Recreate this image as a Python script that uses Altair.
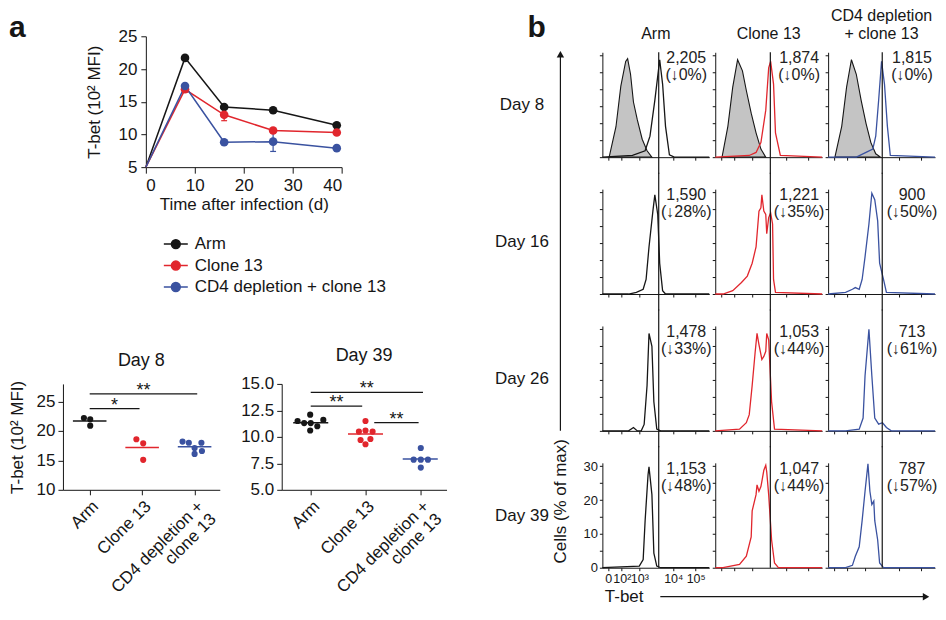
import altair as alt
import pandas as pd

FONT = "Liberation Sans"
INK = "#161616"
RED = "#E1262D"
BLUE = "#3A52A0"
GRAY = "#C4C4C4"

GROUPS = ["Arm", "Clone 13", "CD4 depletion + clone 13"]
GROUP_COLORS = [INK, RED, BLUE]

# ---------------- panel a, top: time course (10^2 MFI) ----------------
tc_days = [0, 8, 16, 26, 39]
tc_arm = [5.0, 21.7, 14.2, 13.7, 11.4]
tc_cl13 = [5.0, 16.9, 13.0, 10.6, 10.3]
tc_cd4 = [5.0, 17.4, 8.8, 8.9, 7.9]
tc_arm_err = [0.0, 0.2, 0.2, 0.3, 0.2]
tc_cl13_err = [0.0, 0.4, 0.9, 0.3, 0.2]
tc_cd4_err = [0.0, 0.3, 0.2, 1.5, 0.2]

# ---------------- panel a, bottom: individual mice ----------------
d8_arm = [22.2, 22.0, 20.9]
d8_cl13 = [18.6, 17.9, 15.1]
d8_cd4 = [18.2, 18.0, 17.1, 18.0, 16.1, 16.6]
d39_arm = [11.5, 12.1, 11.3, 11.3, 11.0, 11.6, 10.6]
d39_cl13 = [11.5, 10.5, 10.6, 10.5, 9.7, 9.8, 9.3]
d39_cd4 = [8.95, 7.85, 7.85, 7.85, 7.1]
# horizontal scatter of the dots (layout only, in category units)
d8_arm_jit = [-0.11, 0.01, 0.01]
d8_cl13_jit = [-0.11, 0.02, 0.02]
d8_cd4_jit = [-0.23, -0.11, 0.0, 0.13, 0.0, 0.14]
d39_arm_jit = [-0.24, -0.01, -0.12, 0.0, 0.12, 0.23, -0.01]
d39_cl13_jit = [0.0, -0.12, 0.0, 0.13, -0.09, 0.09, 0.0]
d39_cd4_jit = [0.01, -0.12, 0.01, 0.14, 0.01]
# significance brackets
d8_sig_from = [0.0, 0.0]
d8_sig_to = [0.95, 2.05]
d8_sig_y = [23.8, 26.3]
d8_sig_lbl = ["*", "**"]
d39_sig_from = [0.0, 0.0, 1.16]
d39_sig_to = [2.05, 0.94, 1.97]
d39_sig_y = [14.2, 12.9, 11.35]
d39_sig_lbl = ["**", "**", "**"]

# ---------------- panel b: T-bet histograms (x: display channel, y: % of max) ----------------
hist_d8_ctrl_arm = [(7, 0), (14, 9), (19, 21), (24, 28.3), (26, 29.1), (29, 24.5), (32, 16.3), (36, 11), (41, 5.3), (46, 1.9), (51, 0)]
hist_d8_ctrl_cl13 = [(7, 0), (13, 9.1), (18, 20.7), (23, 28.8), (28, 25.5), (32, 19.7), (37, 13), (42, 7.2), (47, 2.4), (52, 0)]
hist_d8_ctrl_cd4 = [(7, 0), (14, 9.1), (19, 20.7), (24, 28.8), (29, 24.5), (34, 16.8), (39, 10), (44, 4.3), (49, 1), (54, 0)]
hist_d8_arm = [(0, 0), (31, 0.5), (44, 1.9), (49, 6.2), (54, 16.8), (59, 28.8), (62, 21.6), (65, 9.1), (69, 0.7), (74, 0), (110, 0)]
hist_d8_cl13 = [(0, 0), (35, 0.5), (42, 1.4), (47, 4.3), (52, 13.9), (55, 26.4), (57, 28.3), (60, 21.6), (62, 7.2), (67, 0.5), (110, 0)]
hist_d8_cd4 = [(0, 0), (29, 0), (39, 1.4), (46, 2.4), (49, 6.2), (52, 16.8), (55, 28.3), (58, 21.6), (61, 9.1), (64, 0.5), (110, 0)]
hist_d16_arm = [(0, 0), (27, 0), (35, 0.5), (42, 1.4), (45, 4.3), (48, 13.9), (52, 24.5), (54, 29.3), (57, 23.5), (59, 9.1), (62, 1), (65, 0), (110, 0)]
hist_d16_cl13 = [(0, 0), (8, 0), (18, 1), (27, 3.4), (33, 5.3), (38, 9.1), (42, 13.9), (45, 24.5), (47, 25.5), (48, 29.3), (50, 24.5), (52, 23.5), (53, 17.8), (55, 22.6), (57, 24), (59, 20.7), (60, 4.3), (62, 0.5), (110, 0)]
hist_d16_cd4 = [(0, 0), (18, 0.5), (25, 1.4), (28, 1.9), (32, 1.4), (35, 4.3), (38, 11), (42, 20.7), (45, 29.8), (48, 27.9), (51, 21.6), (53, 9.1), (57, 4.3), (60, 0.5), (110, 0)]
hist_d26_arm = [(0, 0), (27, 0), (32, 1), (36, 0), (40, 0), (43, 1.9), (46, 13.4), (48, 28.8), (51, 25), (53, 8.6), (56, 0.5), (60, 0), (110, 0)]
hist_d26_cl13 = [(0, 0), (25, 0.5), (32, 2.4), (35, 4.8), (38, 13.4), (41, 23), (43, 28.8), (45, 25.5), (48, 21.1), (50, 22), (52, 23.5), (53, 28.8), (55, 26.9), (58, 8.6), (61, 0.5), (110, 0)]
hist_d26_cd4 = [(0, 0), (18, 0), (32, 0.5), (36, 3.8), (38, 16.3), (42, 30), (45, 16.3), (48, 3.8), (52, 2), (56, 2.4), (60, 1), (65, 0), (110, 0)]
hist_d39_arm = [(0, 0), (38, 0.5), (42, 2.4), (44, 13.9), (47, 27.4), (48, 29.8), (51, 21.6), (53, 4.3), (56, 0.5), (60, 0), (110, 0)]
hist_d39_cl13 = [(0, 0), (8, 0), (25, 1), (32, 3.4), (37, 9.1), (38, 16.8), (42, 21.6), (43, 24.5), (45, 22.6), (47, 24), (48, 25.5), (50, 28.8), (52, 30.3), (53, 28.3), (55, 21.6), (58, 8.2), (61, 1.4), (65, 0), (110, 0)]
hist_d39_cd4 = [(0, 0), (18, 0), (25, 0.7), (28, 3.4), (32, 6.2), (35, 13.9), (38, 22.6), (41, 30.7), (43, 22.6), (45, 18.7), (47, 19.7), (48, 13.9), (51, 8.2), (53, 1.4), (57, 0), (110, 0)]
hist_d8_peak = [58, 56.7, 55.7]  # reference line: day-8 MFI of each column

hist_days = ["Day 8", "Day 16", "Day 26", "Day 39"]
mfi_day8 = ["2,205", "1,874", "1,815"]
mfi_day16 = ["1,590", "1,221", "900"]
mfi_day26 = ["1,478", "1,053", "713"]
mfi_day39 = ["1,153", "1,047", "787"]
drop_day8 = [0, 0, 0]
drop_day16 = [28, 35, 50]
drop_day26 = [33, 44, 61]
drop_day39 = [48, 44, 57]
hist_tick_pos = [6, 20, 38, 73, 96]
hist_tick_lbl = ["0", "10²", "10³", "10⁴", "10⁵"]

HIST_CURVES = [
    [hist_d8_arm, hist_d8_cl13, hist_d8_cd4],
    [hist_d16_arm, hist_d16_cl13, hist_d16_cd4],
    [hist_d26_arm, hist_d26_cl13, hist_d26_cd4],
    [hist_d39_arm, hist_d39_cl13, hist_d39_cd4],
]
HIST_CTRL = [hist_d8_ctrl_arm, hist_d8_ctrl_cl13, hist_d8_ctrl_cd4]
HIST_MFI = [mfi_day8, mfi_day16, mfi_day26, mfi_day39]
HIST_DROP = [drop_day8, drop_day16, drop_day26, drop_day39]
COL_HEADERS = ["Arm", "Clone 13", ["CD4 depletion", "+ clone 13"]]

DUMMY = pd.DataFrame({"k": [0]})


def gscale():
    return alt.Scale(domain=GROUPS, range=GROUP_COLORS)


# ======================= line chart =======================
tc_rows = []
for g, vals, errs in zip(GROUPS, [tc_arm, tc_cl13, tc_cd4], [tc_arm_err, tc_cl13_err, tc_cd4_err]):
    for d, v, e in zip(tc_days, vals, errs):
        tc_rows.append({"group": g, "day": d, "mfi": v, "err": e})
tc_df = pd.DataFrame(tc_rows)

LEG_SYMBOL = "M-1,0L1,0M-0.37,0A0.37,0.37,0,1,1,0.37,0A0.37,0.37,0,1,1,-0.37,0Z"
tc_legend = alt.Legend(title=None, orient="none", legendX=100, legendY=195,
                       symbolType=LEG_SYMBOL, symbolSize=576, symbolStrokeWidth=1.5,
                       labelFont=FONT, labelFontSize=17, labelColor=INK, labelOffset=6,
                       rowPadding=0.5, padding=0, labelLimit=400)

tc_xaxis = alt.Axis(values=[0, 10, 20, 30, 40], title="Time after infection (d)", tickSize=6,
                    labelPadding=4, labelFontSize=17, titleFontSize=17, titlePadding=3)
tc_yaxis = alt.Axis(values=[5, 10, 15, 20, 25], title="T-bet (10² MFI)", tickSize=5,
                    labelPadding=4, labelFontSize=17, titleFontSize=17, titlePadding=14)
tc_xs = alt.Scale(domain=[0, 40], nice=False)
tc_ys = alt.Scale(domain=[5, 25], nice=False, zero=False)


def tcx(f):
    return alt.X(f, scale=tc_xs, axis=tc_xaxis)


def tcy(f):
    return alt.Y(f, scale=tc_ys, axis=tc_yaxis)


tc_stroke = alt.Stroke("group:N", scale=gscale(), legend=tc_legend)
tc_lines = alt.Chart(tc_df).mark_line(strokeWidth=1.5).encode(x=tcx("day:Q"), y=tcy("mfi:Q"), stroke=tc_stroke)
err_base = alt.Chart(tc_df).transform_filter("datum.err > 0").transform_calculate(
    lo="datum.mfi - datum.err", hi="datum.mfi + datum.err",
    d1="datum.day - 0.6", d2="datum.day + 0.6")
tc_err = err_base.mark_rule(strokeWidth=1.2).encode(x=tcx("day:Q"), y=tcy("lo:Q"), y2="hi:Q", stroke=tc_stroke)
tc_caps = err_base.transform_fold(["lo", "hi"], as_=["end", "ev"]).mark_rule(strokeWidth=1.2).encode(
    x=tcx("d1:Q"), x2="d2:Q", y=tcy("ev:Q"), stroke=tc_stroke)
tc_pts = alt.Chart(tc_df).transform_filter("datum.day > 0").mark_circle(size=75, opacity=1).encode(
    x=tcx("day:Q"), y=tcy("mfi:Q"), fill=alt.Fill("group:N", scale=gscale(), legend=tc_legend))

line_chart = alt.layer(tc_lines, tc_err, tc_caps, tc_pts).properties(width=196, height=131)

# ======================= scatter panels =======================
CAT_EXPR = "datum.value == 0 ? 'Arm' : datum.value == 1 ? 'Clone 13' : ['CD4 depletion +', 'clone 13']"


def scatter_panel(vals_list, jit_list, sfrom, sto, sy, slbl, title, ydom, yvals, yfmt, xdom, width, ytitle):
    rows = []
    for gi, (vals, jits) in enumerate(zip(vals_list, jit_list)):
        for v, j in zip(vals, jits):
            rows.append({"group": GROUPS[gi], "gi": gi, "x": gi + j, "v": v})
    df = pd.DataFrame(rows)
    sig = pd.DataFrame({"x1": sfrom, "x2": sto, "v": sy, "lbl": slbl})
    xs = alt.Scale(domain=xdom, nice=False, zero=False)
    ys = alt.Scale(domain=ydom, nice=False, zero=False)
    xaxis = alt.Axis(values=[0, 1, 2], labelExpr=CAT_EXPR, labelAngle=315, labelAlign="right",
                     labelBaseline="top", labelFontSize=17, labelPadding=3, tickSize=5, title=None,
                     labelLineHeight=18, labelFlush=False, labelOverlap=False, labelBound=False)
    yargs = dict(values=yvals, tickSize=5, labelPadding=3, labelFontSize=17)
    if yfmt:
        yargs["format"] = yfmt
    if ytitle:
        yargs.update(title=ytitle, titleFontSize=17, titlePadding=10)
    else:
        yargs["title"] = None
    yaxis = alt.Axis(**yargs)

    def X(f):
        return alt.X(f, scale=xs, axis=xaxis)

    def Y(f):
        return alt.Y(f, scale=ys, axis=yaxis)

    col = alt.Color("group:N", scale=gscale(), legend=None)
    pts = alt.Chart(df).mark_circle(size=38, opacity=1).encode(x=X("x:Q"), y=Y("v:Q"), color=col)
    means = alt.Chart(df).transform_aggregate(m="mean(v)", groupby=["group", "gi"]).transform_calculate(
        x1="datum.gi - 0.32", x2="datum.gi + 0.32").mark_rule(strokeWidth=1.5).encode(
        x=X("x1:Q"), x2="x2:Q", y=Y("m:Q"), color=col)
    bars = alt.Chart(sig).mark_rule(color=INK, strokeWidth=1.2).encode(x=X("x1:Q"), x2="x2:Q", y=Y("v:Q"))
    stars = alt.Chart(sig).transform_calculate(xm="(datum.x1 + datum.x2) / 2").mark_text(
        fontSize=18, font=FONT, color=INK, baseline="alphabetic", dy=2).encode(
        x=X("xm:Q"), y=Y("v:Q"), text="lbl:N")
    return alt.layer(means, pts, bars, stars).properties(
        width=width, height=106,
        title=alt.TitleParams(title, fontSize=18, font=FONT, fontWeight="normal", baseline="bottom", offset=-8))


day8_chart = scatter_panel([d8_arm, d8_cl13, d8_cd4], [d8_arm_jit, d8_cl13_jit, d8_cd4_jit],
                           d8_sig_from, d8_sig_to, d8_sig_y, d8_sig_lbl, "Day 8",
                           [10, 28.0], [10, 15, 20, 25], None, [-0.51, 2.48], 157, "T-bet (10² MFI)")
day39_chart = scatter_panel([d39_arm, d39_cl13, d39_cd4], [d39_arm_jit, d39_cl13_jit, d39_cd4_jit],
                            d39_sig_from, d39_sig_to, d39_sig_y, d39_sig_lbl, "Day 39",
                            [5, 15], [5, 7.5, 10, 12.5, 15], ".1f", [-0.53, 2.48], 165, None)

# ======================= histogram grid =======================
HW, HH = 107, 105
hxs = alt.Scale(domain=[0, 110], nice=False, zero=False)
hys = alt.Scale(domain=[0, 31], nice=False, zero=False)
X_LBL_EXPR = " : ".join(f"datum.value == {p} ? '{l}'" for p, l in zip(hist_tick_pos[:-1], hist_tick_lbl[:-1])) + f" : '{hist_tick_lbl[-1]}'"
ROW_GAP = 32


def hist_panel(r, c):
    bl = (r == 3 and c == 0)
    color = GROUP_COLORS[c]
    if bl:
        xaxis = alt.Axis(values=hist_tick_pos, labelExpr=X_LBL_EXPR, labelFontSize=12.5, labelPadding=2,
                         labelOverlap=False, labelFlush=False, tickSize=3, title="T-bet", titleX=2,
                         titleY=29, titleAlign="left", titleBaseline="middle", titleFontSize=17)
    else:
        xaxis = alt.Axis(values=hist_tick_pos, labels=False, tickSize=3, title=None)
    if bl:
        yaxis = alt.Axis(values=[0, 5, 10, 15, 20, 25, 30], labelExpr="datum.value % 10 == 0 ? datum.label : ''",
                         labelFontSize=13, labelPadding=2, tickSize=3, title="Cells (% of max)",
                         titleAngle=270, titleX=-42, titleY=38, titleAlign="center",
                         titleBaseline="middle", titleFontSize=17, labelFlush=False)
    elif c == 0:
        yaxis = alt.Axis(values=[0, 5, 10, 15, 20, 25, 30], labels=False, tickSize=3, title=hist_days[r],
                         titleAngle=0, titleX=-81, titleY=HH / 2, titleAlign="center",
                         titleBaseline="middle", titleFontSize=17)
    else:
        yaxis = alt.Axis(values=[0, 5, 10, 15, 20, 25, 30], labels=False, tickSize=3, title=None)

    def X(f, ax=xaxis):
        return alt.X(f, scale=hxs, axis=ax)

    def Y(f, ax=yaxis):
        return alt.Y(f, scale=hys, axis=ax)

    layers = []
    if r == 0:
        ctrl = pd.DataFrame(HIST_CTRL[c], columns=["x", "y"])
        layers.append(alt.Chart(ctrl).mark_area(fill=GRAY, stroke=INK, strokeWidth=1.1, opacity=1).encode(
            x=X("x:Q"), y=Y("y:Q")))
    cur = pd.DataFrame(HIST_CURVES[r][c], columns=["x", "y"])
    layers.append(alt.Chart(cur).mark_line(color=color, strokeWidth=1.3).encode(x=X("x:Q"), y=Y("y:Q")))
    if bl:
        day_axis = alt.Axis(orient="left", labels=False, ticks=False, domain=False, title=hist_days[r],
                            titleAngle=0, titleX=-81, titleY=HH / 2, titleAlign="center",
                            titleBaseline="middle", titleFontSize=17)
        layers.append(alt.Chart(cur).mark_line(opacity=0).encode(x=X("x:Q"), y=Y("y:Q", day_axis)))
    half = ROW_GAP / 2 + 0.5
    top = 0 if r == 0 else -half
    bot = HH if r == 3 else HH + half
    layers.append(alt.Chart(pd.DataFrame({"x": [hist_d8_peak[c]]})).mark_rule(color=INK, strokeWidth=1.2).encode(
        x=X("x:Q"), y=alt.value(top), y2=alt.value(bot)))
    ann = pd.DataFrame({"t": [f"{HIST_MFI[r][c]}\n(↓{HIST_DROP[r][c]}%)"]})
    layers.append(alt.Chart(ann).mark_text(font=FONT, fontSize=16, color="#222222", align="center",
                                           baseline="top", lineBreak="\n", lineHeight=17).encode(
        text="t:N", x=alt.value(HW - 23), y=alt.value(-2)))
    if bl:
        layers.append(alt.Chart(DUMMY).mark_rule(color=INK, strokeWidth=1.2).encode(
            x=alt.value(-42), y=alt.value(-3 * (HH + ROW_GAP) + 2), y2=alt.value(-32)))
        layers.append(alt.Chart(DUMMY).mark_point(shape="triangle-up", filled=True, size=55, color=INK, opacity=1).encode(
            x=alt.value(-42), y=alt.value(-3 * (HH + ROW_GAP) + 2)))
        layers.append(alt.Chart(DUMMY).mark_rule(color=INK, strokeWidth=1.2).encode(
            x=alt.value(58), x2=alt.value(324), y=alt.value(HH + 29)))
        layers.append(alt.Chart(DUMMY).mark_point(shape="triangle-right", filled=True, size=55, color=INK, opacity=1).encode(
            x=alt.value(324), y=alt.value(HH + 29)))
    props = dict(width=HW, height=HH)
    if r == 0:
        props["title"] = alt.TitleParams(COL_HEADERS[c], fontSize=16, font=FONT, fontWeight="normal",
                                         baseline="bottom", offset=-8, lineHeight=18, anchor="middle")
    ch = alt.layer(*layers).properties(**props)
    if bl:
        ch = ch.resolve_axis(y="independent")
    return ch


grid = alt.concat(*[hist_panel(r, c) for r in range(4) for c in range(3)], columns=3,
                  spacing={"row": ROW_GAP, "column": 6}, bounds="flush")

spacer_top = alt.Chart(DUMMY).mark_point(opacity=0).properties(
    width=83, height=10,
    title=alt.TitleParams("a", anchor="start", frame="group", dx=-54, offset=-31, fontSize=30,
                          fontWeight="bold", font=FONT, baseline="alphabetic"))
spacer_b = alt.Chart(DUMMY).mark_point(opacity=0).properties(
    width=HW, height=16,
    title=alt.TitleParams("b", anchor="start", frame="group", dx=-75, offset=-31, fontSize=30,
                          fontWeight="bold", font=FONT, baseline="alphabetic"))

left = alt.vconcat(
    alt.hconcat(spacer_top, line_chart, spacing=0, bounds="flush"),
    alt.hconcat(day8_chart, day39_chart, spacing=62, bounds="flush"),
    spacing=348, bounds="flush")
right = alt.vconcat(spacer_b, grid, spacing=0, bounds="flush")

chart = alt.hconcat(left, right, spacing=540, bounds="flush").properties(
    padding={"left": 0, "top": 0, "right": 0, "bottom": 0}
).configure_view(stroke=None).configure_axis(
    grid=False, domainColor=INK, tickColor=INK, labelColor=INK, titleColor=INK,
    labelFont=FONT, titleFont=FONT, titleFontWeight="normal", domainWidth=1, tickWidth=1
).configure_title(font=FONT, color=INK, fontWeight="normal")

chart.save("out.html", embed_options={"renderer": "svg", "actions": False})
